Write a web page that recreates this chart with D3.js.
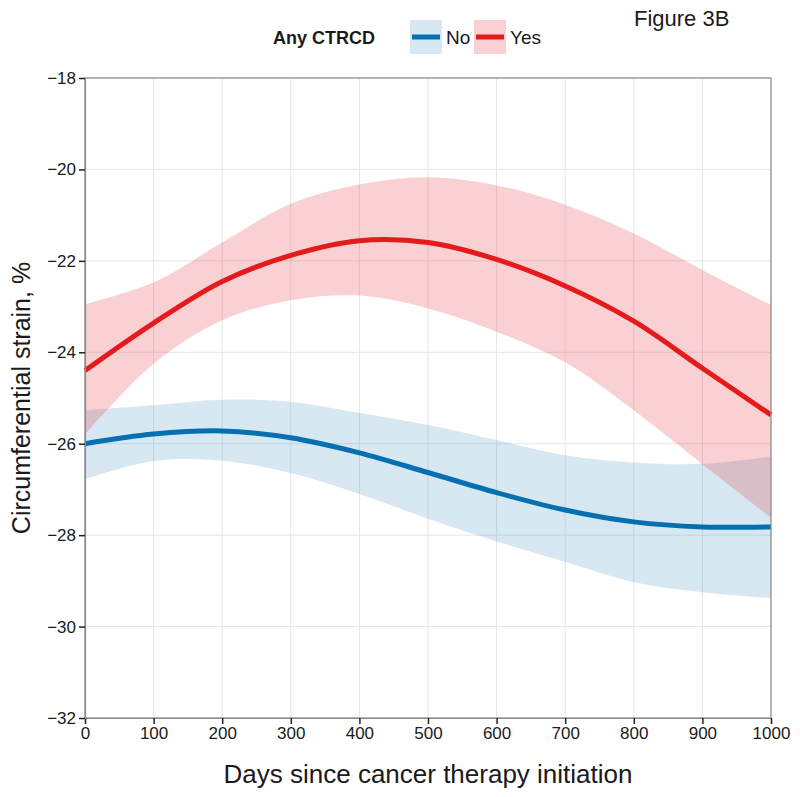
<!DOCTYPE html>
<html>
<head>
<meta charset="utf-8">
<script src="https://cdn.jsdelivr.net/npm/d3@7"></script>
<style>
  body { margin: 0; background: #fff; }
  svg text { font-family: "Liberation Sans", Arial, Helvetica, sans-serif; }
</style>
</head>
<body>
<div id="chart"></div>
<script>
// days since therapy initiation
const days = [0, 100, 200, 300, 400, 500, 600, 700, 800, 900, 1000];

// Any CTRCD = Yes
const yesFit   = [-24.4, -23.36, -22.45, -21.88, -21.56, -21.6, -21.97, -22.55, -23.32, -24.35, -25.37];
const yesLower = [-25.8, -24.25, -23.3, -22.86, -22.76, -23.04, -23.55, -24.22, -25.27, -26.45, -27.62];
const yesUpper = [-22.95, -22.47, -21.6, -20.75, -20.33, -20.17, -20.35, -20.77, -21.4, -22.2, -22.97];

// Any CTRCD = No
const noFit   = [-26.0, -25.79, -25.72, -25.87, -26.2, -26.63, -27.07, -27.45, -27.71, -27.82, -27.82];
const noLower = [-26.78, -26.38, -26.37, -26.64, -27.1, -27.64, -28.14, -28.59, -29.03, -29.25, -29.38];
const noUpper = [-25.27, -25.16, -25.04, -25.08, -25.33, -25.59, -25.92, -26.25, -26.41, -26.44, -26.28];

const xTicks = [0, 100, 200, 300, 400, 500, 600, 700, 800, 900, 1000];
const yTicks = [-32, -30, -28, -26, -24, -22, -20, -18];

const groups = ["No", "Yes"];
const colors = { No: "#0570b0", Yes: "#e41a1c" };

const width = 800, height = 797;
const margin = { top: 78, right: 29, bottom: 79, left: 85 };

const svg = d3.select("#chart")
    .append("svg")
    .attr("width", width)
    .attr("height", height);

const x = d3.scaleLinear()
    .domain([0, 1000])
    .range([margin.left, width - margin.right]);

const y = d3.scaleLinear()
    .domain([-32, -18])
    .range([height - margin.bottom, margin.top]);

// grid
svg.append("g")
    .selectAll("line")
    .data(xTicks)
    .join("line")
    .attr("x1", d => x(d)).attr("x2", d => x(d))
    .attr("y1", y(-32)).attr("y2", y(-18))
    .attr("stroke", "#e6e6e6")
    .attr("stroke-width", 1);

svg.append("g")
    .selectAll("line")
    .data(yTicks)
    .join("line")
    .attr("x1", x(0)).attr("x2", x(1000))
    .attr("y1", d => y(d)).attr("y2", d => y(d))
    .attr("stroke", "#e6e6e6")
    .attr("stroke-width", 1);

const series = [
    { key: "No", fit: noFit, lower: noLower, upper: noUpper },
    { key: "Yes", fit: yesFit, lower: yesLower, upper: yesUpper }
];

const curve = d3.curveCatmullRom.alpha(0.5);

const area = d3.area()
    .x((d, i) => x(days[i]))
    .y0(d => y(d[0]))
    .y1(d => y(d[1]))
    .curve(curve);

const line = d3.line()
    .x((d, i) => x(days[i]))
    .y(d => y(d))
    .curve(curve);

// confidence bands
svg.append("g")
    .selectAll("path")
    .data(series)
    .join("path")
    .attr("d", s => area(s.lower.map((v, i) => [v, s.upper[i]])))
    .attr("fill", s => colors[s.key])
    .attr("fill-opacity", s => s.key === "No" ? 0.16 : 0.2);

// fitted lines
svg.append("g")
    .selectAll("path")
    .data(series)
    .join("path")
    .attr("d", s => line(s.fit))
    .attr("fill", "none")
    .attr("stroke", s => colors[s.key])
    .attr("stroke-width", 5);

// panel border
svg.append("rect")
    .attr("x", x(0))
    .attr("y", y(-18))
    .attr("width", x(1000) - x(0))
    .attr("height", y(-32) - y(-18))
    .attr("fill", "none")
    .attr("stroke", "#8a8a8a")
    .attr("stroke-width", 1.2);

// axes
const xAxis = svg.append("g")
    .attr("transform", `translate(0,${y(-32)})`)
    .call(d3.axisBottom(x).tickValues(xTicks).tickSize(6).tickPadding(3)
        .tickFormat(d3.format("d")));

const yAxis = svg.append("g")
    .attr("transform", `translate(${x(0)},0)`)
    .call(d3.axisLeft(y).tickValues(yTicks).tickSize(6).tickPadding(3)
        .tickFormat(d => "\u2212" + Math.abs(d)));

[xAxis, yAxis].forEach(a => {
    a.attr("font-size", 17).attr("font-family", "Liberation Sans, Arial, sans-serif");
    a.select(".domain").attr("stroke", "#8a8a8a").attr("stroke-width", 1.2);
    a.selectAll(".tick line").attr("stroke", "#222").attr("stroke-width", 1.5);
    a.selectAll(".tick text").attr("fill", "#1a1a1a").attr("font-size", 17);
});

// axis titles
svg.append("text")
    .attr("x", (x(0) + x(1000)) / 2)
    .attr("y", 783)
    .attr("text-anchor", "middle")
    .style("font-size", "26px")
    .attr("fill", "#1a1a1a")
    .text("Days since cancer therapy initiation");

svg.append("text")
    .attr("transform", `translate(30,${(y(-18) + y(-32)) / 2}) rotate(-90)`)
    .attr("text-anchor", "middle")
    .style("font-size", "25px")
    .attr("fill", "#1a1a1a")
    .text("Circumferential strain, %");

// legend
svg.append("text")
    .attr("x", 273)
    .attr("y", 44)
    .style("font-size", "18px")
    .style("font-weight", "bold")
    .attr("fill", "#1a1a1a")
    .text("Any CTRCD");

const legendX = { No: 410, Yes: 474 };
const leg = svg.append("g")
    .selectAll("g")
    .data(groups)
    .join("g")
    .attr("transform", d => `translate(${legendX[d]},20)`);

leg.append("rect")
    .attr("width", 32)
    .attr("height", 34)
    .attr("fill", d => colors[d])
    .attr("fill-opacity", d => d === "No" ? 0.16 : 0.2);

leg.append("line")
    .attr("x1", 2).attr("x2", 30)
    .attr("y1", 17).attr("y2", 17)
    .attr("stroke", d => colors[d])
    .attr("stroke-width", 5);

leg.append("text")
    .attr("x", 36)
    .attr("y", 24)
    .style("font-size", "19px")
    .attr("fill", "#1a1a1a")
    .text(d => d);

svg.append("text")
    .attr("x", 634)
    .attr("y", 26)
    .style("font-size", "22px")
    .attr("fill", "#1a1a1a")
    .text("Figure 3B");
</script>
</body>
</html>
